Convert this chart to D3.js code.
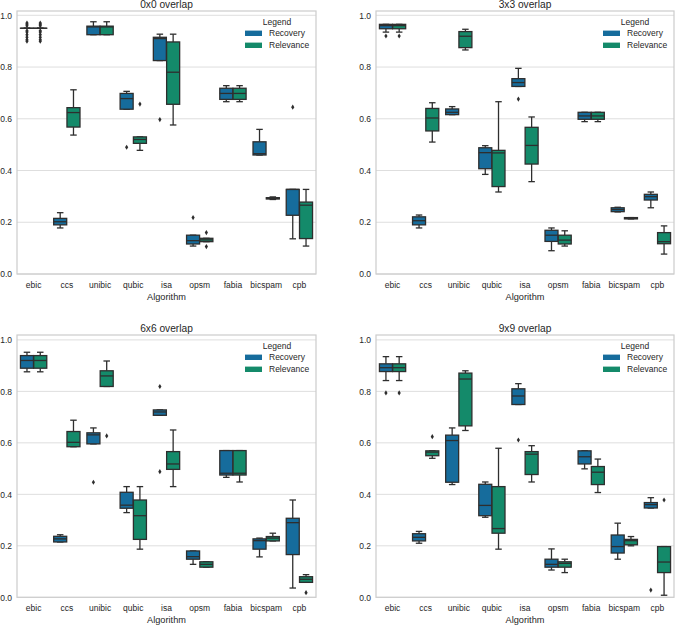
<!DOCTYPE html>
<html><head><meta charset="utf-8">
<script src="https://cdn.jsdelivr.net/npm/d3@7"></script>
<style>
body{margin:0;background:#fff;}
svg{display:block;font-family:"Liberation Sans",Arial,sans-serif;}
</style></head>
<body><svg id="c" width="675" height="625"></svg>
<script>
const algorithms = ["ebic","ccs","unibic","qubic","isa","opsm","fabia","bicspam","cpb"];
const hues = ["Recovery","Relevance"];
const hueColors = ["#166c9c","#148a6a"];
const panelTitles = ["0x0 overlap","3x3 overlap","6x6 overlap","9x9 overlap"];
const yTicks = [0,0.2,0.4,0.6,0.8,1.0];

// each row: [whiskerLow, q1, median, q3, whiskerHigh]
const rec0 = [[0.95,0.95,0.95,0.95,0.95],[0.178,0.19,0.202,0.215,0.237],[0.925,0.925,0.955,0.958,0.975],[0.637,0.637,0.678,0.698,0.706],[0.825,0.825,0.91,0.915,0.927],[0.108,0.116,0.129,0.15,0.15],[0.666,0.675,0.698,0.718,0.728],[0.46,0.46,0.465,0.511,0.559],[0.136,0.227,0.327,0.327,0.327]];
const rel0 = [[0.95,0.95,0.95,0.95,0.95],[0.537,0.568,0.624,0.643,0.712],[0.925,0.925,0.955,0.958,0.975],[0.478,0.505,0.52,0.53,0.53],[0.576,0.656,0.78,0.897,0.927],[0.125,0.125,0.132,0.138,0.138],[0.666,0.675,0.698,0.718,0.728],[0.288,0.29,0.292,0.295,0.298],[0.108,0.137,0.266,0.278,0.327]];
const recFl0 = [[0.97,0.965,0.96,0.94,0.935,0.925,0.915,0.905,0.9],[],[],[0.49],[0.597],[0.218],[],[],[0.645]];
const relFl0 = [[0.97,0.965,0.96,0.94,0.935,0.925,0.915,0.905,0.9],[],[],[0.657],[],[0.16,0.106],[],[],[]];

const rec3 = [[0.935,0.948,0.96,0.965,0.965],[0.178,0.19,0.206,0.221,0.228],[0.616,0.616,0.625,0.638,0.647],[0.385,0.407,0.469,0.488,0.496],[0.725,0.725,0.74,0.755,0.795],[0.09,0.126,0.15,0.169,0.178],[0.589,0.598,0.611,0.625,0.625],[0.24,0.241,0.249,0.256,0.258],[0.256,0.286,0.299,0.308,0.317]];
const rel3 = [[0.935,0.948,0.96,0.965,0.965],[0.51,0.553,0.603,0.64,0.662],[0.866,0.875,0.919,0.937,0.946],[0.317,0.338,0.468,0.478,0.666],[0.357,0.425,0.497,0.567,0.607],[0.108,0.116,0.131,0.15,0.167],[0.589,0.598,0.611,0.625,0.625],[0.213,0.213,0.215,0.218,0.218],[0.077,0.117,0.125,0.16,0.186]];
const recFl3 = [[0.92],[],[],[],[0.676],[],[],[],[]];
const relFl3 = [[0.92],[],[],[],[],[],[],[],[]];

const rec6 = [[0.876,0.89,0.92,0.939,0.952],[0.215,0.215,0.227,0.237,0.243],[0.596,0.596,0.631,0.639,0.658],[0.329,0.346,0.358,0.408,0.43],[0.707,0.707,0.72,0.728,0.728],[0.128,0.148,0.158,0.18,0.18],[0.466,0.475,0.482,0.57,0.57],[0.157,0.187,0.22,0.227,0.23],[0.036,0.166,0.29,0.307,0.378]];
const rel6 = [[0.876,0.89,0.92,0.939,0.952],[0.585,0.585,0.602,0.644,0.688],[0.819,0.819,0.86,0.88,0.918],[0.187,0.225,0.317,0.378,0.43],[0.43,0.497,0.518,0.566,0.65],[0.117,0.117,0.128,0.138,0.138],[0.448,0.475,0.482,0.57,0.57],[0.219,0.219,0.23,0.236,0.249],[0.058,0.058,0.07,0.08,0.088]];
const recFl6 = [[],[],[0.447],[],[0.819,0.488],[],[],[],[]];
const relFl6 = [[],[],[0.627],[],[],[],[],[],[0.018]];

const rec9 = [[0.842,0.877,0.892,0.907,0.935],[0.21,0.219,0.233,0.247,0.256],[0.438,0.447,0.609,0.63,0.658],[0.311,0.317,0.357,0.439,0.448],[0.749,0.749,0.782,0.81,0.83],[0.106,0.117,0.128,0.148,0.188],[0.499,0.518,0.546,0.569,0.569],[0.148,0.172,0.197,0.242,0.288],[0.347,0.347,0.36,0.368,0.387]];
const rel9 = [[0.842,0.877,0.892,0.907,0.935],[0.54,0.55,0.564,0.569,0.569],[0.648,0.666,0.848,0.871,0.88],[0.187,0.249,0.267,0.43,0.579],[0.448,0.477,0.556,0.566,0.589],[0.096,0.117,0.132,0.138,0.148],[0.407,0.438,0.486,0.508,0.537],[0.2,0.204,0.22,0.225,0.236],[0.008,0.096,0.137,0.197,0.197]];
const recFl9 = [[0.794],[],[],[],[0.611],[],[],[],[0.028]];
const relFl9 = [[0.794],[],[0.624].slice(0,0),[],[],[],[],[],[0.378]];
relFl9[1] = [0.624];

const panels = [
  {title:panelTitles[0], stats:[rec0,rel0], fliers:[recFl0,relFl0], left:17, right:316, top:11, bottom:274, ymax:1.0166},
  {title:panelTitles[1], stats:[rec3,rel3], fliers:[recFl3,relFl3], left:376, right:674, top:11, bottom:274, ymax:1.0166},
  {title:panelTitles[2], stats:[rec6,rel6], fliers:[recFl6,relFl6], left:17, right:316, top:335, bottom:597.3, ymax:1.019},
  {title:panelTitles[3], stats:[rec9,rel9], fliers:[recFl9,relFl9], left:376, right:674, top:335, bottom:597.3, ymax:1.019}
];

const svg = d3.select("#c");
const textColor = "#262626";
const lineColor = "#2e2e2e";

panels.forEach(p => {
  const g = svg.append("g");
  const x = d3.scaleBand().domain(algorithms).range([p.left, p.right]).padding(0);
  const y = d3.scaleLinear().domain([0, p.ymax]).range([p.bottom, p.top]);
  const bw = x.bandwidth();
  const hueWidth = bw * 0.8 / hues.length;
  const boxW = hueWidth * 0.98;
  const capW = boxW * 0.5;

  // grid
  g.append("g").selectAll("line").data(yTicks).join("line")
    .attr("x1", p.left).attr("x2", p.right)
    .attr("y1", d => y(d)).attr("y2", d => y(d))
    .attr("stroke", "#dedede").attr("stroke-width", 1);
  // frame
  g.append("rect").attr("x", p.left).attr("y", p.top)
    .attr("width", p.right - p.left).attr("height", p.bottom - p.top)
    .attr("fill", "none").attr("stroke", "#cccccc").attr("stroke-width", 1.2);

  // y axis
  const ya = g.append("g").attr("transform", `translate(${p.left},0)`)
    .call(d3.axisLeft(y).tickValues(yTicks).tickFormat(d3.format(".1f")).tickSize(0).tickPadding(5));
  ya.select(".domain").remove();
  ya.selectAll("text").attr("fill", textColor).style("font-size", "8.5px").style("font-family", "Liberation Sans, Arial, sans-serif");

  // x axis
  const xa = g.append("g").attr("transform", `translate(0,${p.bottom})`)
    .call(d3.axisBottom(x).tickSize(0).tickPadding(8));
  xa.select(".domain").remove();
  xa.selectAll("text").attr("fill", textColor).style("font-size", "8.5px").style("font-family", "Liberation Sans, Arial, sans-serif");

  g.append("text").attr("x", (p.left + p.right) / 2).attr("y", p.bottom + 26)
    .attr("text-anchor", "middle").attr("fill", textColor).style("font-size", "9.2px").text("Algorithm");
  g.append("text").attr("x", (p.left + p.right) / 2).attr("y", p.top - 3.5)
    .attr("text-anchor", "middle").attr("fill", textColor).style("font-size", "10.2px").text(p.title);

  // boxes
  hues.forEach((h, hi) => {
    const off = hueWidth * (hi - (hues.length - 1) / 2);
    algorithms.forEach((a, ai) => {
      const s = p.stats[hi][ai];
      const cx = x(a) + bw / 2 + off;
      const bg = g.append("g");
      // whiskers
      bg.append("line").attr("x1", cx).attr("x2", cx).attr("y1", y(s[0])).attr("y2", y(s[1]))
        .attr("stroke", lineColor).attr("stroke-width", 1.3);
      bg.append("line").attr("x1", cx).attr("x2", cx).attr("y1", y(s[3])).attr("y2", y(s[4]))
        .attr("stroke", lineColor).attr("stroke-width", 1.3);
      // caps
      [s[0], s[4]].forEach(v => {
        bg.append("line").attr("x1", cx - capW / 2).attr("x2", cx + capW / 2).attr("y1", y(v)).attr("y2", y(v))
          .attr("stroke", lineColor).attr("stroke-width", 1.3);
      });
      // box
      bg.append("rect").attr("x", cx - boxW / 2).attr("y", y(s[3]))
        .attr("width", boxW).attr("height", Math.max(0.01, y(s[1]) - y(s[3])))
        .attr("fill", hueColors[hi]).attr("stroke", lineColor).attr("stroke-width", 1.3);
      // median
      bg.append("line").attr("x1", cx - boxW / 2).attr("x2", cx + boxW / 2).attr("y1", y(s[2])).attr("y2", y(s[2]))
        .attr("stroke", lineColor).attr("stroke-width", 1.3);
      // fliers (thin diamonds)
      bg.selectAll("path.fl").data(p.fliers[hi][ai]).join("path").attr("class", "fl")
        .attr("d", d => { const yy = y(d); return `M${cx},${yy-2.6}L${cx+1.6},${yy}L${cx},${yy+2.6}L${cx-1.6},${yy}Z`; })
        .attr("fill", lineColor);
    });
  });

  // legend
  const lx = p.right - 71, ly = p.top;
  const lg = g.append("g");
  lg.append("text").attr("x", lx + 32).attr("y", ly + 14).attr("text-anchor", "middle")
    .attr("fill", textColor).style("font-size", "8.5px").text("Legend");
  hues.forEach((h, hi) => {
    const yy = ly + 22.3 + hi * 12;
    lg.append("rect").attr("x", lx).attr("y", yy - 2.7).attr("width", 17).attr("height", 5.4).attr("fill", hueColors[hi]);
    lg.append("text").attr("x", lx + 24).attr("y", yy + 3).attr("fill", textColor).style("font-size", "8.5px").text(h);
  });
});
</script></body></html>
